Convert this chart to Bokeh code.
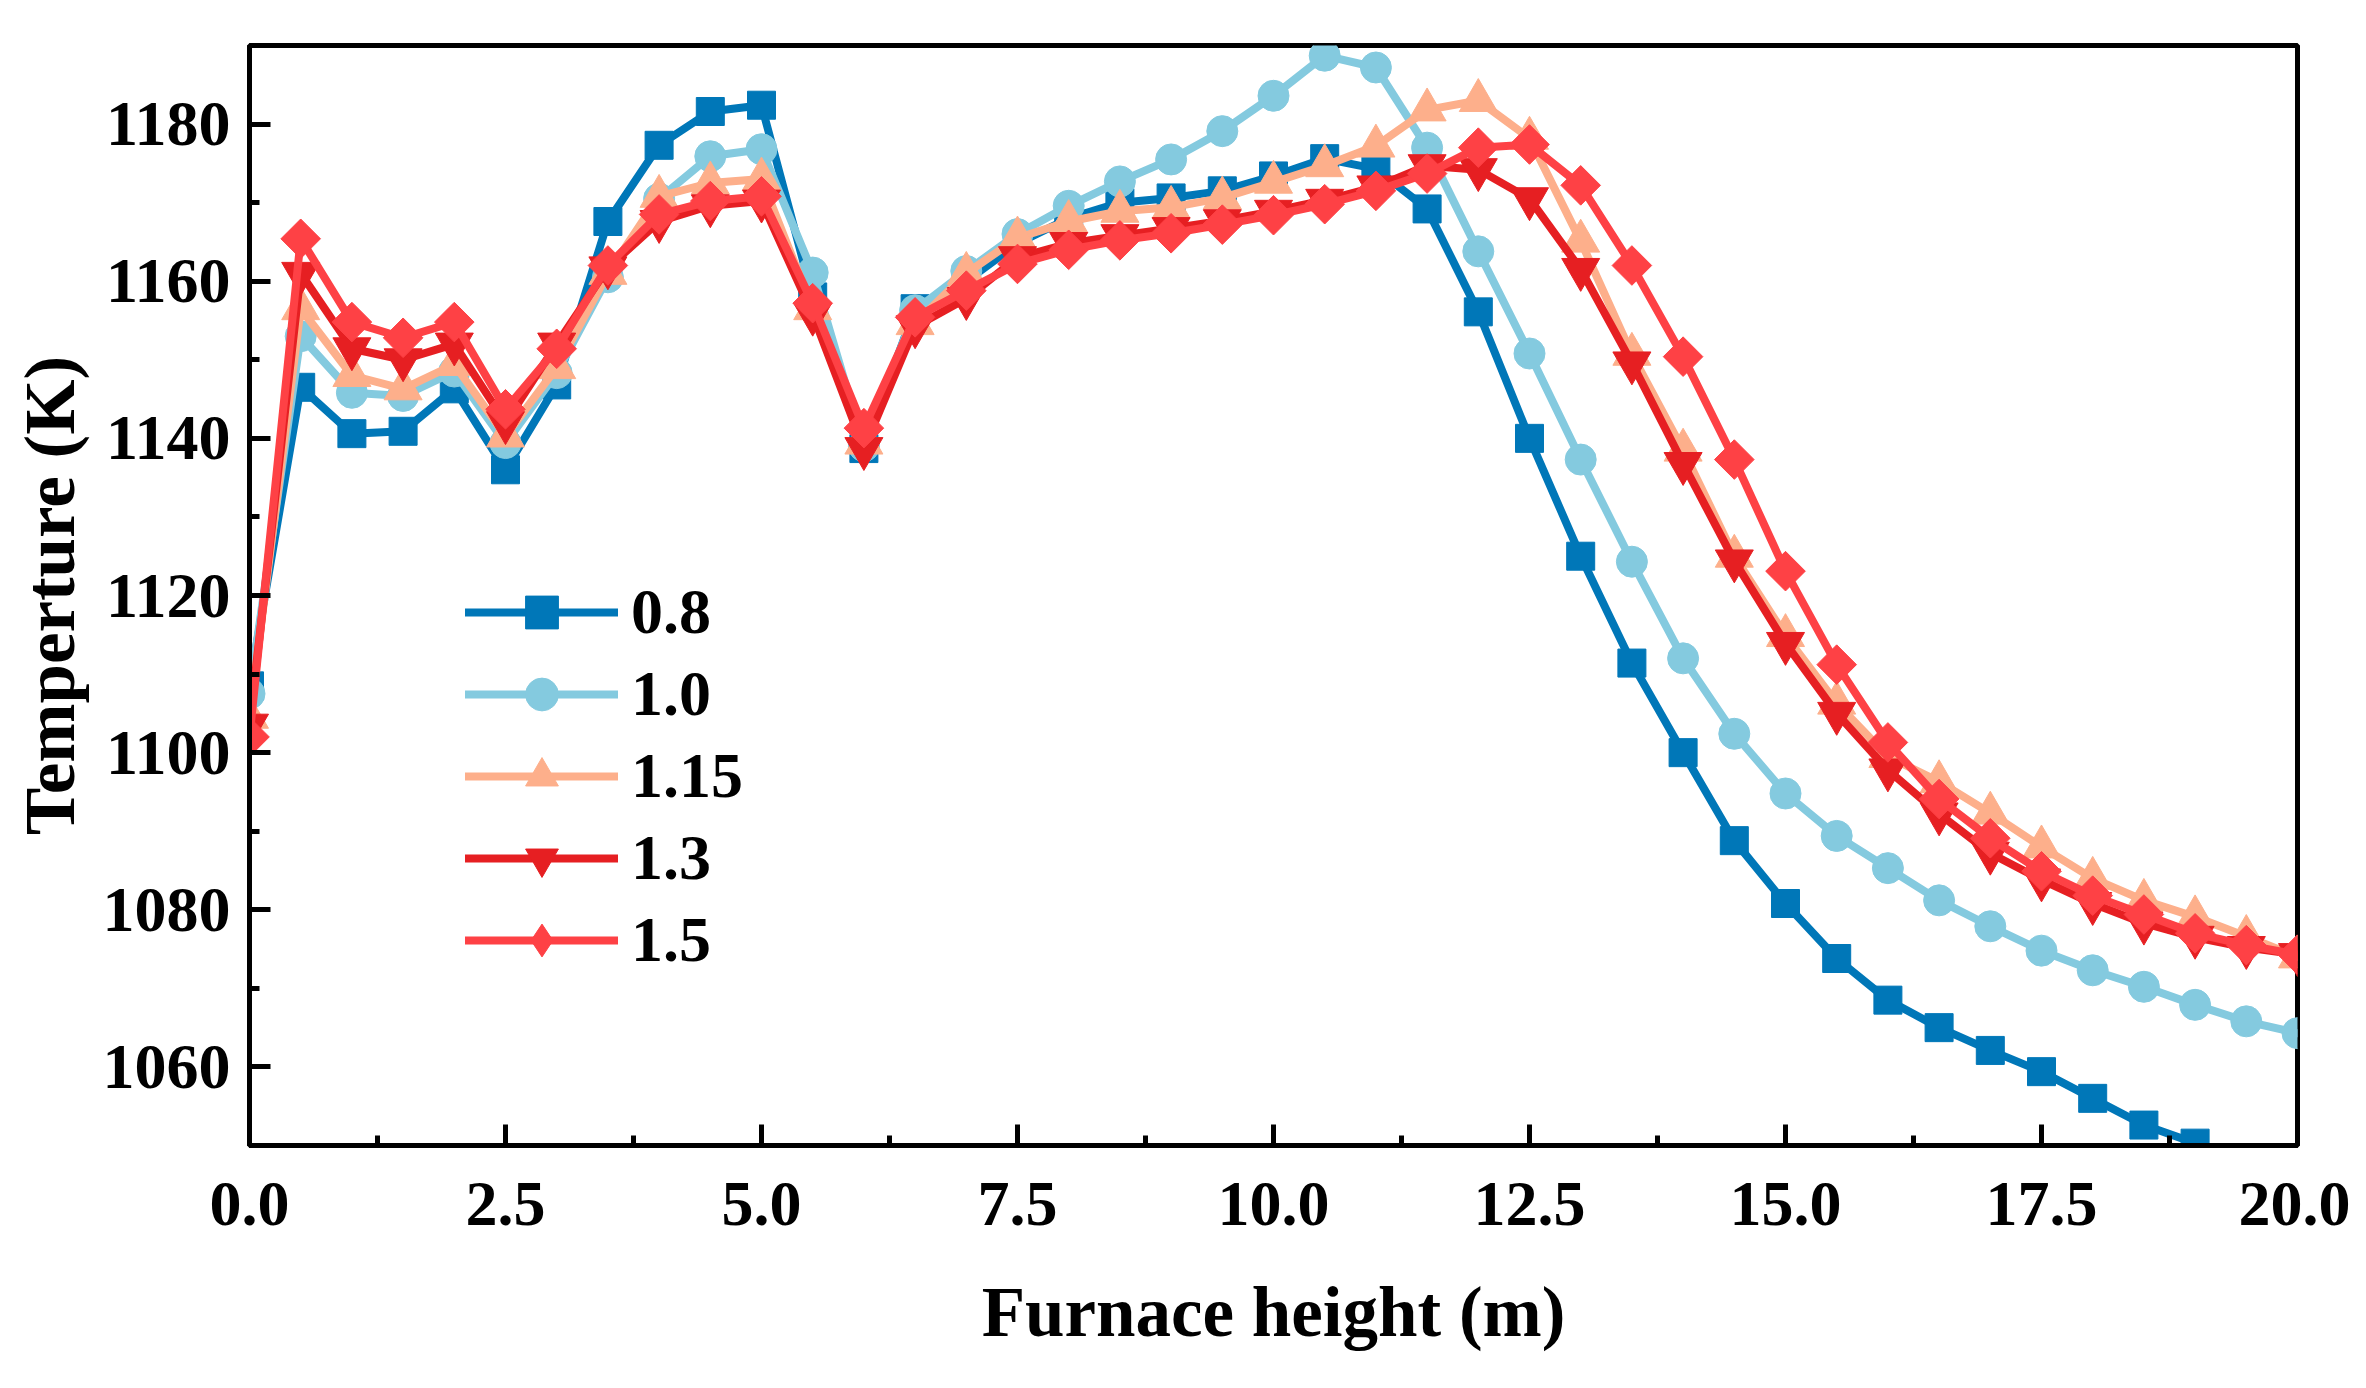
from bokeh.plotting import figure
from bokeh.models import FixedTicker, Range1d, Legend, LegendItem, PrintfTickFormatter
from bokeh.embed import file_html
from bokeh.resources import INLINE
import math

# ---------------- data ----------------
heights = [0.0, 0.5, 1.0, 1.5, 2.0, 2.5, 3.0, 3.5, 4.0, 4.5, 5.0, 5.5, 6.0, 6.5, 7.0,
           7.5, 8.0, 8.5, 9.0, 9.5, 10.0, 10.5, 11.0, 11.5, 12.0, 12.5, 13.0, 13.5,
           14.0, 14.5, 15.0, 15.5, 16.0, 16.5, 17.0, 17.5, 18.0, 18.5, 19.0, 19.5, 20.0]

t_08 = [1108.5, 1146.5, 1140.6, 1140.9, 1146.3, 1136.0, 1146.8, 1167.6, 1177.3, 1181.6,
        1182.4, 1158.0, 1138.7, 1156.5, 1160.0, 1164.8, 1168.0, 1170.0, 1170.6, 1171.5,
        1173.4, 1175.6, 1174.3, 1169.2, 1156.1, 1140.0, 1125.0, 1111.4, 1100.0, 1088.8,
        1080.8, 1073.8, 1068.5, 1065.0, 1062.1, 1059.4, 1056.0, 1052.6, 1050.3, 1048.2,
        1046.3]
t_10 = [1107.5, 1153.0, 1145.8, 1145.4, 1148.5, 1139.4, 1148.3, 1160.5, 1170.5, 1175.9,
        1176.8, 1161.1, 1139.0, 1156.3, 1161.3, 1166.0, 1169.6, 1172.7, 1175.5, 1179.1,
        1183.6, 1188.7, 1187.2, 1177.0, 1163.8, 1150.8, 1137.3, 1124.3, 1112.0, 1102.4,
        1094.8, 1089.4, 1085.3, 1081.2, 1077.9, 1074.8, 1072.3, 1070.2, 1067.9, 1065.8,
        1064.3]
t_115 = [1104.5, 1156.5, 1148.0, 1146.3, 1149.4, 1140.3, 1149.0, 1161.0, 1170.8, 1172.5,
         1173.0, 1156.5, 1139.4, 1154.6, 1161.0, 1165.5, 1167.6, 1168.9, 1169.4, 1170.6,
         1172.6, 1174.7, 1177.2, 1181.8, 1183.0, 1178.2, 1165.1, 1150.7, 1138.5, 1125.0,
         1114.9, 1106.3, 1099.5, 1096.3, 1092.3, 1088.0, 1084.0, 1081.2, 1079.1, 1076.6,
         1074.0]
t_13 = [1103.5, 1161.0, 1151.4, 1150.0, 1152.0, 1142.0, 1152.0, 1161.7, 1167.6, 1169.6,
        1170.2, 1155.8, 1138.7, 1154.2, 1157.8, 1163.0, 1164.8, 1165.8, 1166.7, 1167.7,
        1168.9, 1170.3, 1172.0, 1174.7, 1174.2, 1170.5, 1161.5, 1149.6, 1136.8, 1124.4,
        1113.9, 1105.0, 1097.8, 1092.2, 1087.2, 1083.8, 1080.8, 1078.3, 1076.5, 1075.2,
        1074.3]
t_15 = [1102.0, 1165.4, 1154.8, 1152.8, 1154.8, 1143.7, 1151.4, 1162.0, 1168.5, 1170.2,
        1170.8, 1157.2, 1141.3, 1155.4, 1158.8, 1162.2, 1164.0, 1165.2, 1166.1, 1167.2,
        1168.4, 1169.8, 1171.5, 1173.7, 1177.0, 1177.4, 1172.2, 1162.0, 1150.4, 1137.3,
        1123.1, 1111.2, 1101.3, 1094.1, 1089.1, 1084.9, 1081.8, 1079.4, 1077.0, 1075.5,
        1074.3]

series_names = ["0.8", "1.0", "1.15", "1.3", "1.5"]
series_values = [t_08, t_10, t_115, t_13, t_15]

x_ticks = [0.0, 2.5, 5.0, 7.5, 10.0, 12.5, 15.0, 17.5, 20.0]
x_minor = [1.25, 3.75, 6.25, 8.75, 11.25, 13.75, 16.25, 18.75]
y_ticks = [1060, 1080, 1100, 1120, 1140, 1160, 1180]
y_minor = [1050, 1070, 1090, 1110, 1130, 1150, 1170, 1190]

x_label = "Furnace height (m)"
y_label = "Temperture (K)"

# ---------------- styles ----------------
colors = ["#0077b8", "#84cadf", "#fdaf8b", "#e61f22", "#fe4145"]
# marker used in the plot area / marker shown in the legend
plot_markers = ["square", "circle", "triangle", "inverted_triangle", "square"]
legend_markers = ["square", "circle", "triangle", "inverted_triangle", "diamond"]
sizes = [28, 31, 38, 38, 28]
angles = [0, 0, 0, 0, math.pi / 4]

FONT = "Liberation Serif"

p = figure(width=2350, height=1372, output_backend="svg", toolbar_location=None,
           x_range=Range1d(0, 20), y_range=Range1d(1050, 1190),
           min_border_left=249, min_border_right=53, min_border_top=45,
           min_border_bottom=227)
p.grid.visible = False
p.outline_line_color = "black"
p.outline_line_width = 5
p.background_fill_color = "white"
p.border_fill_color = "white"

p.xaxis.ticker = FixedTicker(ticks=x_ticks, minor_ticks=x_minor)
p.yaxis.ticker = FixedTicker(ticks=y_ticks, minor_ticks=y_minor)
p.xaxis.formatter = PrintfTickFormatter(format="%.1f")
p.yaxis.formatter = PrintfTickFormatter(format="%d")
p.xaxis.axis_label = x_label
p.yaxis.axis_label = y_label

for ax in (p.xaxis[0], p.yaxis[0]):
    ax.axis_line_width = 5
    ax.axis_line_color = "black"
    ax.major_tick_line_width = 5
    ax.minor_tick_line_width = 5
    ax.major_tick_in = 21
    ax.major_tick_out = 0
    ax.minor_tick_in = 10
    ax.minor_tick_out = 0
    ax.major_label_text_font = FONT
    ax.major_label_text_font_style = "bold"
    ax.major_label_text_font_size = "64px"
    ax.major_label_text_color = "black"
    ax.axis_label_text_font = FONT
    ax.axis_label_text_font_style = "bold"
    ax.axis_label_text_font_size = "71px"
    ax.axis_label_text_color = "black"

p.xaxis.major_label_standoff = 37
p.xaxis.axis_label_standoff = 45
p.yaxis.major_label_standoff = 19
p.yaxis.axis_label_standoff = 11

items = []
for name, vals, c, pm, lm, sz, ang in zip(series_names, series_values, colors,
                                          plot_markers, legend_markers, sizes, angles):
    l = p.line(heights, vals, line_width=8, line_color=c, line_join="round", line_cap="round")
    s = p.scatter(heights, vals, marker=pm, size=sz, angle=ang, fill_color=c, line_color=c,
                  line_width=1)
    if lm == pm:
        items.append(LegendItem(label=name, renderers=[l, s]))
    else:
        # same data, drawn only as the legend swatch
        proxy = p.scatter(heights, vals, marker=lm, size=sz, fill_color=c, line_color=c,
                          line_width=1, visible=False)
        items.append(LegendItem(label=name, renderers=[l, proxy]))

legend = Legend(items=items, location=(206, 154), glyph_width=153, glyph_height=82,
                label_height=82, spacing=0, label_standoff=13, padding=10,
                border_line_alpha=0, background_fill_alpha=0, inactive_fill_alpha=0,
                label_text_font=FONT, label_text_font_style="bold",
                label_text_font_size="64px", label_text_color="black")
p.add_layout(legend)

open("out.html", "w").write(file_html(p, INLINE))
